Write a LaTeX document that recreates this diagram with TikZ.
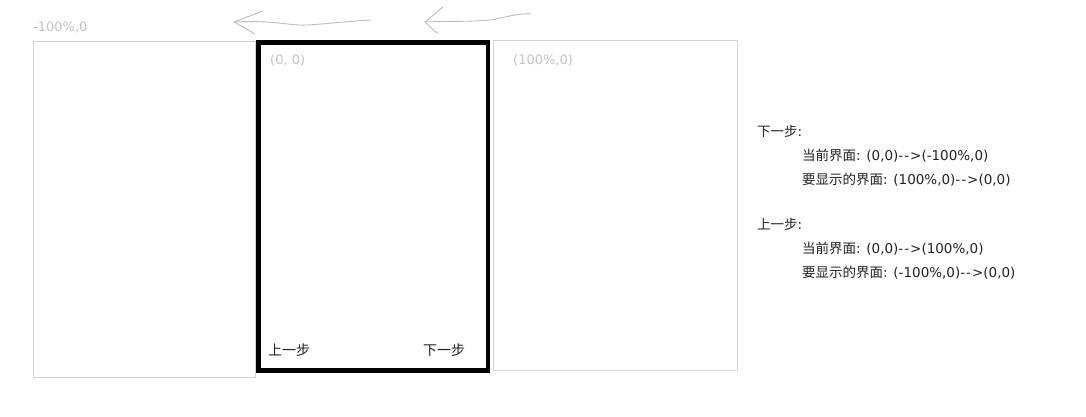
\documentclass[tikz,border=0pt]{standalone}
\usepackage{fontspec}
\setmainfont{DejaVu Sans}
\newfontfamily\cjk{Noto Sans CJK SC}
\newcommand\arr{-\kern1pt-\kern1pt>}
\definecolor{framegray}{HTML}{D4D4D4}
\definecolor{labelgray}{HTML}{C4C4C4}
\definecolor{txt}{HTML}{222222}
\definecolor{pen}{HTML}{BDBDBD}
\tikzset{
  screen/.style={draw=framegray, line width=1pt, inner sep=0pt, outer sep=0pt, anchor=north west},
  current/.style={draw=black, line width=4.5pt, inner sep=0pt, outer sep=0pt, anchor=north west},
  poslabel/.style={text=labelgray, font=\fontsize{13}{15}\selectfont, inner sep=0pt, anchor=base west},
  btnlabel/.style={text=txt, font=\fontsize{14}{16}\selectfont\cjk, inner sep=0pt, anchor=base west},
  notelabel/.style={text=txt, font=\fontsize{13.5}{15}\selectfont, inner sep=0pt, anchor=base west},
  stroke/.style={draw=pen, line width=0.9pt, line cap=round, line join=round}
}
\begin{document}
\begin{tikzpicture}[x=1pt,y=-1pt]
\useasboundingbox[fill=white] (0,0) rectangle (1086,417);
% screens
\node[screen, minimum width=222pt, minimum height=335pt] (prev) at (33,42) {};
\node[screen, minimum width=244pt, minimum height=329pt] (next) at (493,41) {};
\node[current, minimum width=229.5pt, minimum height=328pt] (cur) at (258.5,42.5) {};
% position labels
\node[poslabel] (lprev) at (33,31.5) {-100\%,0};
\node[poslabel] (lcur) at (270,65) {(0, 0)};
\node[poslabel] (lnext) at (513,65) {(100\%,0)};
% buttons
\node[btnlabel] (bprev) at (268,355) {上一步};
\node[btnlabel] (bnext) at (423,355) {下一步};
% notes
\node[notelabel] (n1) at (757,136) {{\cjk 下一步}:};
\node[notelabel] (n2) at (802,160) {{\cjk 当前界面}: (0,0)\arr(-100\%,0)};
\node[notelabel] (n3) at (802,184) {{\cjk 要显示的界面}: (100\%,0)\arr(0,0)};
\node[notelabel] (n4) at (757,229) {{\cjk 上一步}:};
\node[notelabel] (n5) at (802,253) {{\cjk 当前界面}: (0,0)\arr(100\%,0)};
\node[notelabel] (n6) at (802,277) {{\cjk 要显示的界面}: (-100\%,0)\arr(0,0)};
% hand-drawn arrows
\coordinate (a1tip) at (234,22);
\coordinate (a1end) at (371,20);
\coordinate (a1up) at (263,11);
\coordinate (a1dn) at (255,34);
\draw[stroke] (a1end) .. controls (340,22) and (325,24) .. (307,25)
  .. controls (290,26) and (275,20) .. (a1tip);
\draw[stroke] (a1up) -- (a1tip) -- (a1dn);
\coordinate (a2tip) at (425,22);
\coordinate (a2end) at (531,14);
\coordinate (a2up) at (443,7);
\coordinate (a2dn) at (437,33);
\draw[stroke] (a2end) .. controls (515,13) and (505,18) .. (490,20)
  .. controls (470,22) and (445,21) .. (a2tip);
\draw[stroke] (a2up) -- (a2tip) -- (a2dn);
\end{tikzpicture}
\end{document}
